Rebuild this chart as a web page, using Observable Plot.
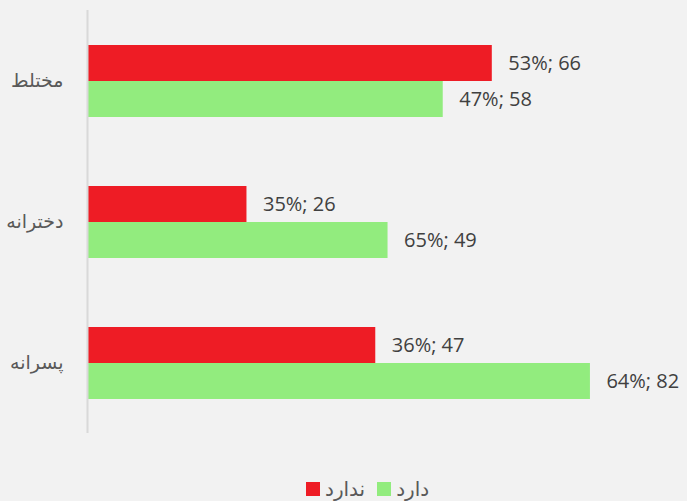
<!DOCTYPE html>
<html>
<head>
<meta charset="utf-8">
<script src="https://cdn.jsdelivr.net/npm/d3@7"></script>
<script src="https://cdn.jsdelivr.net/npm/@observablehq/plot@0.6"></script>
<style>
  html, body { margin: 0; padding: 0; background: #f2f2f2; }
  body { width: 687px; height: 501px; overflow: hidden; position: relative; font-family: "Open Sans", "DejaVu Sans", sans-serif; }
  #chart svg { display: block; background: #f2f2f2; }
  .legend { position: absolute; left: 306px; top: 477px; display: flex; align-items: center; direction: ltr; font-size: 20px; color: #595959; font-family: "DejaVu Sans", "Open Sans", sans-serif; }
  .legend .sw { width: 14px; height: 14px; display: inline-block; margin-right: 5px; }
  .legend .item { display: flex; align-items: center; margin-right: 12px; }
</style>
</head>
<body>
<div id="chart"></div>
<script>
const categories = ["مختلط", "دخترانه", "پسرانه"];
const seriesNames = ["ندارد", "دارد"];
const countsNadarad = [66, 26, 47];
const pctNadarad = [53, 35, 36];
const countsDarad = [58, 49, 82];
const pctDarad = [47, 65, 64];
const colors = ["#ee1c25", "#92ec7e"];

const data = [];
categories.forEach((c, i) => {
  data.push({category: c, series: seriesNames[0], count: countsNadarad[i], pct: pctNadarad[i]});
  data.push({category: c, series: seriesNames[1], count: countsDarad[i], pct: pctDarad[i]});
});

const chart = Plot.plot({
  width: 687,
  height: 445,
  marginTop: 9,
  marginBottom: 11,
  marginLeft: 87,
  marginRight: 48,
  style: {background: "#f2f2f2", fontFamily: "'Open Sans', 'DejaVu Sans', sans-serif"},
  x: {domain: [0, 90], axis: null},
  fy: {domain: categories, padding: 0, label: null, axis: null},
  y: {domain: seriesNames, paddingInner: 0, paddingOuter: 0.92, axis: null},
  color: {domain: seriesNames, range: colors},
  marks: [
    Plot.barX(data, {fy: "category", y: "series", x: "count", fill: "series"}),
    Plot.text(data, {fy: "category", y: "series", x: "count", text: d => `${d.pct}%; ${d.count}`, textAnchor: "start", dx: 16, fontSize: 20, fill: "#404040"}),
    Plot.ruleX([0], {stroke: "#d9d9d9", strokeWidth: 2}),
    Plot.axisFy({anchor: "left", tickSize: 0, tickPadding: 24, fontSize: 19, fill: "#595959", label: null, fontFamily: "'DejaVu Sans', sans-serif"})
  ]
});
document.getElementById("chart").appendChild(chart);

const legend = document.createElement("div");
legend.className = "legend";
seriesNames.forEach((s, i) => {
  const item = document.createElement("span");
  item.className = "item";
  const sw = document.createElement("span");
  sw.className = "sw";
  sw.style.background = colors[i];
  const t = document.createElement("span");
  t.textContent = s;
  item.appendChild(sw);
  item.appendChild(t);
  legend.appendChild(item);
});
document.body.appendChild(legend);
</script>
</body>
</html>
